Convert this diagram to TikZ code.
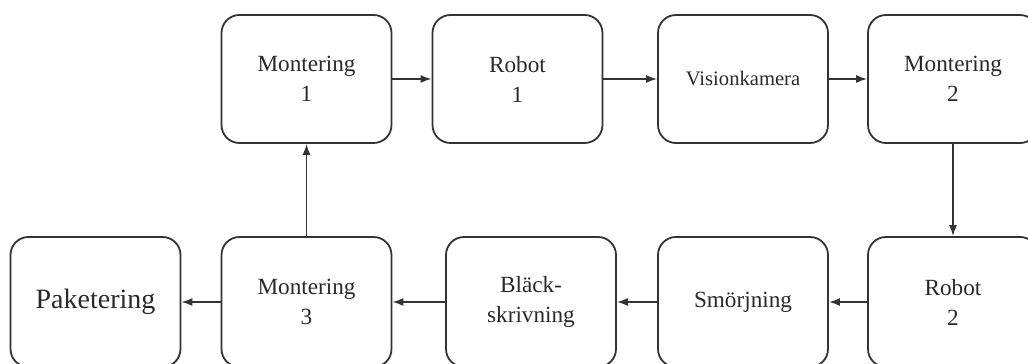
\documentclass[tikz,border=0pt]{standalone}
\usepackage{fontspec}
\setmainfont{Liberation Serif}
\usetikzlibrary{arrows.meta}
\definecolor{ink}{HTML}{333333}
\tikzset{
  stage/.style={draw=ink, line width=0.9pt, rounded corners=9pt,
    minimum width=85pt, minimum height=64pt, inner sep=0pt,
    align=center, font=\fontsize{11.6}{15}\selectfont, text=ink!80!black},
  lowstage/.style={stage, minimum height=65pt},
  flow/.style={draw=ink, line width=0.8pt, -{Latex[length=5.5pt,width=4pt]}}
}
\begin{document}
\begin{tikzpicture}[x=0.5pt, y=-0.5pt]
\useasboundingbox (0,0) rectangle (1028,364);
% top row
\node[stage] (m1) at (306.5,79) {Montering\\1};
\node[stage] (r1) at (517.5,79) {Robot\\1};
\node[stage, font=\fontsize{10.3}{13}\selectfont] (vk) at (743,79) {Visionkamera};
\node[stage] (m2) at (953,79) {Montering\\2};
% bottom row
\node[lowstage] (pk) at (95.5,302) {\fontsize{14}{17}\selectfont Paketering};
\node[lowstage] (m3) at (306.5,302) {Montering\\3};
\node[lowstage] (bl) at (531,302) {Bläck-\\skrivning};
\node[lowstage] (sm) at (743,302) {Smörjning};
\node[lowstage] (r2) at (953,302) {Robot\\2};
% process flow
\draw[flow] (m1) -- (r1);
\draw[flow] (r1) -- (vk);
\draw[flow] (vk) -- (m2);
\draw[flow] (m2) -- (r2);
\draw[flow] (r2) -- (sm);
\draw[flow] (sm) -- (bl);
\draw[flow] (bl) -- (m3);
\draw[flow] (m3) -- (pk);
\draw[flow] (m3) -- (m1);
\end{tikzpicture}
\end{document}
